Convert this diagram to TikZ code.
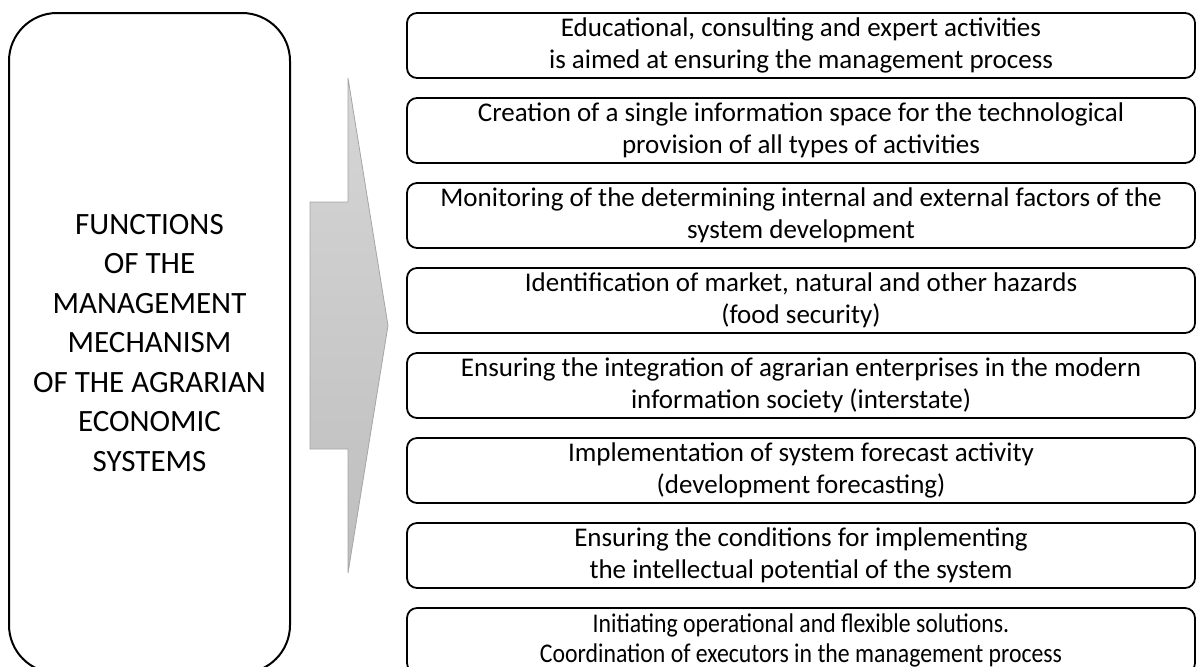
\documentclass[tikz,border=0pt]{standalone}
\usepackage{fontspec}
\setmainfont{Carlito}
\newfontfamily\narrowfont[FakeStretch=0.88]{Carlito}
\usetikzlibrary{positioning}
\definecolor{ArrowTop}{HTML}{D6D6D6}
\definecolor{ArrowBottom}{HTML}{BEBEBE}
\definecolor{ArrowLine}{HTML}{A5A5A5}
\tikzset{
  mainbox/.style={
    draw=black,
    rounded corners=24pt,
    line width=1pt,
    minimum width=140.5pt,
    minimum height=330pt,
    inner sep=0pt,
    align=center,
    font=\fontsize{15.5}{19.75}\selectfont,
  },
  funcbox/.style={
    draw=black,
    rounded corners=5pt,
    line width=0.9pt,
    minimum width=394pt,
    minimum height=32.5pt,
    inner sep=0pt,
    outer sep=0pt,
    align=center,
    font=\fontsize{13.5}{16}\selectfont,
  },
  bigarrow/.style={
    top color=ArrowTop,
    bottom color=ArrowBottom,
    draw=ArrowLine,
    line width=0.4pt,
  }
}

\begin{document}
\begin{tikzpicture}[x=0.5pt,y=-0.5pt,node distance=10pt]
  \clip (0,0) rectangle (1197,666);

  \node[mainbox] (functions) at (149.5,343) {
    FUNCTIONS\\
    OF THE\\
    MANAGEMENT\\
    MECHANISM\\
    OF THE AGRARIAN\\
    ECONOMIC\\
    SYSTEMS
  };

  % arrow between the two columns
  \shade[bigarrow]
    (310,202) -- (348,202) -- (348,78) -- (388,325.5)
    -- (348,573) -- (348,449) -- (310,449) -- cycle;

  \node[funcbox] (educ) at (801,45.5) {
    Educational, consulting and expert activities\\
    is aimed at ensuring the management process
  };

  \node[funcbox, below=of educ] (space) {
    Creation of a single information space for the technological\\
    provision of all types of activities
  };

  \node[funcbox, below=of space] (monitor) {
    Monitoring of the determining internal and external factors of the\\
    system development
  };

  \node[funcbox, below=of monitor] (hazards) {
    Identification of market, natural and other hazards\\
    (food security)
  };

  \node[funcbox, below=of hazards] (integr) {
    Ensuring the integration of agrarian enterprises in the modern\\
    information society (interstate)
  };

  \node[funcbox, below=of integr] (forecast) {
    Implementation of system forecast activity\\
    (development forecasting)
  };

  \node[funcbox, below=of forecast] (potential) {
    Ensuring the conditions for implementing\\
    the intellectual potential of the system
  };

  \node[
    funcbox,
    font=\narrowfont\fontsize{13.5}{15}\selectfont,
    below=of potential
  ] (solutions) {
    Initiating operational and flexible solutions.\\
    Coordination of executors in the management process
  };
\end{tikzpicture}
\end{document}
